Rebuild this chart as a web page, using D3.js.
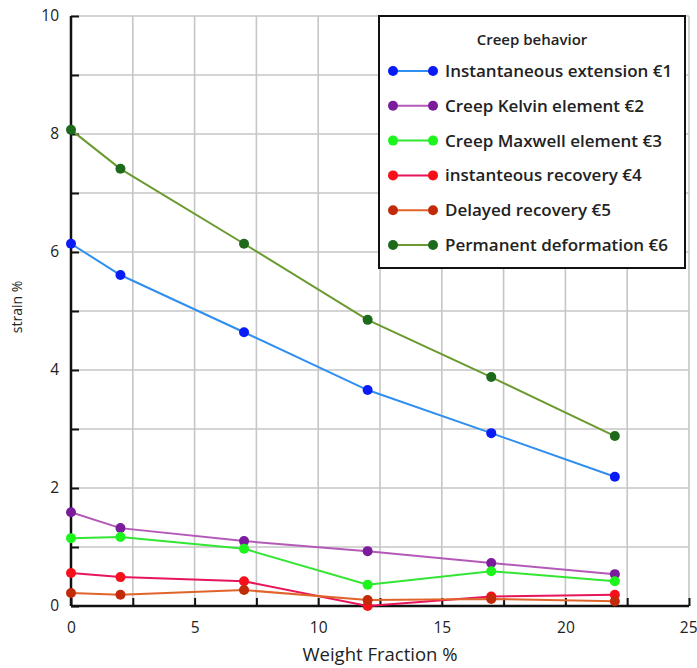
<!DOCTYPE html>
<html>
<head>
<meta charset="utf-8">
<script src="https://cdn.jsdelivr.net/npm/d3@7"></script>
<style>
  body { margin: 0; background: #fff; }
  text { font-family: "Open Sans", "DejaVu Sans", sans-serif; fill: #222; }
</style>
</head>
<body>
<svg width="697" height="668"></svg>
<script>
// weight fraction (x) values
var fractions = [0, 2, 7, 12, 17, 22];

// strain % per series
var instantExt = [6.14, 5.61, 4.64, 3.66, 2.93, 2.19];
var kelvin = [1.59, 1.32, 1.10, 0.93, 0.73, 0.54];
var maxwell = [1.15, 1.17, 0.97, 0.36, 0.59, 0.42];
var instantRec = [0.56, 0.49, 0.42, 0.0, 0.16, 0.19];
var delayedRec = [0.22, 0.19, 0.27, 0.10, 0.12, 0.08];
var permanent = [8.07, 7.41, 6.14, 4.85, 3.88, 2.88];

var seriesNames = [
  "Instantaneous extension \u20AC1",
  "Creep Kelvin element \u20AC2",
  "Creep Maxwell element \u20AC3",
  "instanteous recovery \u20AC4",
  "Delayed recovery \u20AC5",
  "Permanent deformation \u20AC6"
];
var xTicks = [0, 5, 10, 15, 20, 25];
var yTicks = [0, 2, 4, 6, 8, 10];

var series = [
  {name: seriesNames[0], values: instantExt, line: "#2f8ff0", dot: "#0a1cf5"},
  {name: seriesNames[1], values: kelvin, line: "#b35ab8", dot: "#7a1c9c"},
  {name: seriesNames[2], values: maxwell, line: "#33e633", dot: "#1cf51c"},
  {name: seriesNames[3], values: instantRec, line: "#e8155a", dot: "#f5101a"},
  {name: seriesNames[4], values: delayedRec, line: "#e0642a", dot: "#c22a0a"},
  {name: seriesNames[5], values: permanent, line: "#6a9a30", dot: "#1d6a1d"}
];

var svg = d3.select("svg");
var mLeft = 71, mRight = 689, mTop = 16, mBottom = 606;

var x = d3.scaleLinear().domain([0, 25]).range([mLeft, mRight]);
var y = d3.scaleLinear().domain([0, 10]).range([mBottom, mTop]);

// grid
var grid = svg.append("g");
grid.selectAll(".vg")
  .data(d3.range(2.5, 25.01, 2.5))
  .enter().append("line")
  .attr("x1", function(d) { return x(d); })
  .attr("x2", function(d) { return x(d); })
  .attr("y1", mTop).attr("y2", mBottom)
  .attr("stroke", "#c6c6c6").attr("stroke-width", 1.6);
grid.selectAll(".hg")
  .data(d3.range(1, 10.01, 1))
  .enter().append("line")
  .attr("x1", mLeft).attr("x2", mRight)
  .attr("y1", function(d) { return y(d); })
  .attr("y2", function(d) { return y(d); })
  .attr("stroke", "#c6c6c6").attr("stroke-width", 1.6);

// axes
var xAxis = d3.axisBottom(x).tickValues(d3.range(0, 25.01, 2.5))
  .tickSize(-8).tickPadding(16)
  .tickFormat(function(d) { return xTicks.indexOf(d) >= 0 ? d : ""; });
var gx = svg.append("g").attr("transform", "translate(0," + mBottom + ")").call(xAxis);

var yAxis = d3.axisLeft(y).tickValues(d3.range(0, 10.01, 1))
  .tickSize(-8).tickPadding(12)
  .tickFormat(function(d) { return yTicks.indexOf(d) >= 0 ? d : ""; });
var gy = svg.append("g").attr("transform", "translate(" + mLeft + ",0)").call(yAxis);

[gx, gy].forEach(function(g) {
  g.select(".domain").attr("stroke", "#111").attr("stroke-width", 2.5);
  g.selectAll(".tick line").attr("stroke", "#111").attr("stroke-width", 2);
  g.selectAll(".tick text").style("font-size", "15.5px").style("font-family", "Open Sans, sans-serif").attr("fill", "#222");
});
gx.select(".domain").attr("d", "M" + mLeft + ",0H" + mRight);
gy.select(".domain").attr("d", "M0," + mBottom + "V" + mTop);
gx.selectAll(".tick text").filter(function(d) { return d === 25; }).attr("text-anchor", "end").attr("dx", "8");

// axis titles
svg.append("text")
  .attr("x", 380).attr("y", 661)
  .attr("text-anchor", "middle").style("font-size", "18.5px")
  .text("Weight Fraction %");
svg.append("text")
  .attr("transform", "translate(22," + 307 + ") rotate(-90)")
  .attr("text-anchor", "middle").style("font-size", "14px")
  .text("strain %");

// lines + points
var line = d3.line()
  .x(function(d, i) { return x(fractions[i]); })
  .y(function(d) { return y(d); });

series.forEach(function(s) {
  svg.append("path")
    .datum(s.values)
    .attr("fill", "none")
    .attr("stroke", s.line)
    .attr("stroke-width", 2)
    .attr("d", line);
  svg.selectAll(null)
    .data(s.values)
    .enter().append("circle")
    .attr("cx", function(d, i) { return x(fractions[i]); })
    .attr("cy", function(d) { return y(d); })
    .attr("r", 5)
    .attr("fill", s.dot);
});

// legend
var lg = svg.append("g").attr("transform", "translate(379,16)");
lg.append("rect")
  .attr("width", 306).attr("height", 252)
  .attr("fill", "#fff").attr("stroke", "#111").attr("stroke-width", 2);
lg.append("text")
  .attr("x", 153).attr("y", 29)
  .attr("text-anchor", "middle")
  .style("font-size", "15px").style("font-weight", "600")
  .text("Creep behavior");
series.forEach(function(s, i) {
  var ly = 55 + i * 34.8;
  lg.append("line")
    .attr("x1", 14).attr("x2", 54).attr("y1", ly).attr("y2", ly)
    .attr("stroke", s.line).attr("stroke-width", 2);
  lg.selectAll(null).data([14, 54]).enter().append("circle")
    .attr("cx", function(d) { return d; }).attr("cy", ly).attr("r", 5)
    .attr("fill", s.dot);
  lg.append("text")
    .attr("x", 66).attr("y", ly + 6)
    .style("font-size", "17px").style("font-weight", "600")
    .attr("fill", "#222")
    .text(s.name);
});
</script>
</body>
</html>
